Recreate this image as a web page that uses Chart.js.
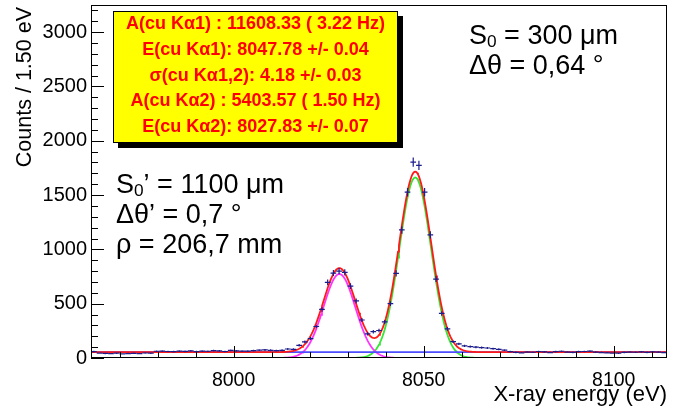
<!DOCTYPE html>
<html><head><meta charset="utf-8">
<script src="https://cdn.jsdelivr.net/npm/chart.js@4.4.0/dist/chart.umd.min.js"></script>
<style>html,body{margin:0;padding:0;background:#fff;}canvas{display:block;}</style>
</head><body>
<canvas id="c" width="684" height="409"></canvas>
<script>
// ---- histogram data (counts per 1.5 eV bin) ----
const binLow = 7962.5;
const binWidth = 1.5;
const counts = [
  58,
  45, 42, 40, 44, 38, 41, 43, 40, 46, 44,
  62, 64, 60, 58, 63, 61, 66, 59, 64, 62, 67, 65, 60, 70, 66, 64, 63, 68, 72,
  74, 71, 68, 71, 83, 80, 117, 148, 179, 290, 447,
  696, 782, 800, 788, 662, 526, 350, 222, 242, 253, 332, 500, 779, 1179, 1527, 1804, 1773, 1527, 1133, 727, 410, 268,
  150, 130, 112, 104, 100, 96, 92, 86, 80, 72, 58,
  52, 48, 55, 53, 60, 56, 50, 58, 62, 55, 52, 58, 60, 63, 54, 50, 48, 45, 44, 52, 55, 53, 57, 52, 56, 54, 50
];
// ---- fit parameters (from the stats box) ----
const areaKa1 = 11608.33, meanKa1 = 8047.78;
const areaKa2 = 5403.57, meanKa2 = 8027.83;
const sigmaKa = 4.18;
const background = 54;
// ---- axes ----
const xRange = [7962.5, 8114];
const yRange = [0, 3250];
const xTickValues = [8000, 8050, 8100];
const yTickValues = [0, 500, 1000, 1500, 2000, 2500, 3000];
const xTitle = 'X-ray energy (eV)';
const yTitle = 'Counts / 1.50 eV';
const statsLines = [
  'A(cu K\u03b11) : 11608.33 ( 3.22 Hz)',
  'E(cu K\u03b11): 8047.78 +/- 0.04',
  '\u03c3(cu K\u03b11,2): 4.18 +/- 0.03',
  'A(cu K\u03b12) : 5403.57 ( 1.50 Hz)',
  'E(cu K\u03b12): 8027.83 +/- 0.07'
];

const FONT = '"Liberation Sans", Arial, Helvetica, sans-serif';
const energies = counts.map((_, i) => binLow + binWidth * (i + 0.5));
const histPoints = counts.map((c, i) => ({x: energies[i], y: c}));

function gaussHeight(area) { return area * binWidth / (sigmaKa * Math.sqrt(2 * Math.PI)); }
function g(x, area, mean) { const d = (x - mean) / sigmaKa; return gaussHeight(area) * Math.exp(-0.5 * d * d); }
const sampleX = [];
for (let x = xRange[0]; x <= xRange[1] + 1e-9; x += 0.25) sampleX.push(x);
const curveKa1 = sampleX.map(x => ({x, y: g(x, areaKa1, meanKa1)}));
const curveKa2 = sampleX.map(x => ({x, y: g(x, areaKa2, meanKa2)}));
const curveBg = sampleX.map(x => ({x, y: background}));
const curveTotal = sampleX.map(x => ({x, y: background + g(x, areaKa1, meanKa1) + g(x, areaKa2, meanKa2)}));

const errorBars = {
  id: 'errorBars',
  afterDatasetsDraw(chart) {
    const {ctx, chartArea: a, scales: {x, y}} = chart;
    ctx.save();
    ctx.beginPath(); ctx.rect(a.left, a.top, a.right - a.left, a.bottom - a.top); ctx.clip();
    ctx.strokeStyle = '#1c1c8c'; ctx.lineWidth = 1.2;
    histPoints.forEach(p => {
      const px = x.getPixelForValue(p.x), py = y.getPixelForValue(p.y);
      const x0 = x.getPixelForValue(p.x - binWidth / 2), x1 = x.getPixelForValue(p.x + binWidth / 2);
      const e = Math.sqrt(p.y);
      const y0 = y.getPixelForValue(p.y - e), y1 = y.getPixelForValue(p.y + e);
      ctx.beginPath();
      ctx.moveTo(x0, py); ctx.lineTo(x1, py);
      ctx.moveTo(px, y0); ctx.lineTo(px, y1);
      ctx.stroke();
    });
    ctx.restore();
  }
};

const frameTicks = {
  id: 'frameTicks',
  afterDraw(chart) {
    const {ctx, chartArea: a, scales: {x, y}} = chart;
    ctx.save();
    ctx.strokeStyle = '#000'; ctx.lineWidth = 1;
    ctx.strokeRect(Math.round(a.left) + 0.5, Math.round(a.top) + 0.5, Math.round(a.right - a.left) - 1, Math.round(a.bottom - a.top) - 1);
    ctx.beginPath();
    for (let v = 0; v <= yRange[1]; v += 100) {
      const py = Math.round(y.getPixelForValue(v)) + 0.5;
      const len = (v % 500 === 0) ? 13 : 7;
      ctx.moveTo(a.left, py); ctx.lineTo(a.left + len, py);
    }
    for (let v = 7970; v <= xRange[1]; v += 10) {
      const px = Math.round(x.getPixelForValue(v)) + 0.5;
      const len = (v % 50 === 0) ? 12 : 6;
      ctx.moveTo(px, a.bottom); ctx.lineTo(px, a.bottom - len);
    }
    ctx.stroke();
    ctx.restore();
  }
};

function drawSub(ctx, parts, x0, yb, size) {
  let xx = x0;
  parts.forEach(p => {
    const s = p.sub ? size * 0.64 : size;
    ctx.font = s + 'px ' + FONT;
    ctx.fillText(p.t, xx, yb + (p.sub ? size * 0.1 : 0));
    xx += ctx.measureText(p.t).width;
  });
}

const texts = {
  id: 'texts',
  afterDraw(chart) {
    const {ctx, chartArea: a} = chart;
    ctx.save();
    // stats box
    const bx = 113, by = 11, bw = 285, bh = 132;
    ctx.fillStyle = '#000';
    ctx.fillRect(bx + 5, by + 5, bw, bh);
    ctx.fillStyle = '#ffff00';
    ctx.fillRect(bx, by, bw, bh);
    ctx.strokeStyle = '#000'; ctx.lineWidth = 1;
    ctx.strokeRect(bx + 0.5, by + 0.5, bw - 1, bh - 1);
    ctx.fillStyle = '#ff0000';
    ctx.font = 'bold 18px ' + FONT;
    ctx.textAlign = 'center'; ctx.textBaseline = 'middle';
    statsLines.forEach((t, i) => ctx.fillText(t, bx + bw / 2, by + 13 + i * 25.8));
    // annotations
    ctx.fillStyle = '#000'; ctx.textAlign = 'left'; ctx.textBaseline = 'alphabetic';
    drawSub(ctx, [{t: 'S'}, {t: '0', sub: true}, {t: ' = 300 \u03bcm'}], 469, 44, 27);
    drawSub(ctx, [{t: '\u0394\u03b8 = 0,64 \u00b0'}], 469, 74, 27);
    drawSub(ctx, [{t: 'S'}, {t: '0', sub: true}, {t: '\u2019 = 1100 \u03bcm'}], 116, 193, 27);
    drawSub(ctx, [{t: '\u0394\u03b8\u2019 = 0,7 \u00b0'}], 116, 223, 27);
    drawSub(ctx, [{t: '\u03c1 = 206,7 mm'}], 116, 253, 27);
    // axis titles
    ctx.font = '22px ' + FONT;
    ctx.textAlign = 'right';
    ctx.fillText(xTitle, a.right, 401);
    ctx.translate(31, a.top);
    ctx.rotate(-Math.PI / 2);
    ctx.textAlign = 'right';
    ctx.font = '21.5px ' + FONT;
    ctx.fillText(yTitle, -2, 0);
    ctx.restore();
  }
};

new Chart(document.getElementById('c'), {
  type: 'scatter',
  data: {
    datasets: [
      {label: 'data', data: histPoints, showLine: false, pointRadius: 0, order: 1},
      {label: 'total', data: curveTotal, showLine: true, borderColor: '#ff1a1a', borderWidth: 1.8, pointRadius: 0, order: 2},
      {label: 'bg', data: curveBg, showLine: true, borderColor: '#4d4dff', borderWidth: 1.8, pointRadius: 0, order: 3},
      {label: 'Ka2', data: curveKa2, showLine: true, borderColor: '#ff33ff', borderWidth: 1.8, pointRadius: 0, order: 4},
      {label: 'Ka1', data: curveKa1, showLine: true, borderColor: '#33e633', borderWidth: 1.8, pointRadius: 0, order: 5}
    ]
  },
  options: {
    responsive: false, animation: false, devicePixelRatio: 1,
    layout: {padding: {left: 0, top: 5, right: 17, bottom: 0}},
    plugins: {legend: {display: false}, tooltip: {enabled: false}},
    scales: {
      x: {
        type: 'linear', min: xRange[0], max: xRange[1],
        grid: {display: false, drawTicks: false}, border: {display: false},
        afterBuildTicks: s => { s.ticks = xTickValues.map(v => ({value: v})); },
        afterFit: s => { s.height = 51; s.paddingLeft = 0; s.paddingRight = 0; },
        ticks: {color: '#000', font: {family: FONT, size: 19.5}, padding: 11, maxRotation: 0, callback: v => String(v)}
      },
      y: {
        type: 'linear', min: yRange[0], max: yRange[1],
        grid: {display: false, drawTicks: false}, border: {display: false},
        afterBuildTicks: s => { s.ticks = yTickValues.map(v => ({value: v})); },
        afterFit: s => { s.width = 91; s.paddingTop = 0; s.paddingBottom = 0; },
        ticks: {color: '#000', font: {family: FONT, size: 20}, padding: 4, callback: v => String(v)}
      }
    }
  },
  plugins: [errorBars, frameTicks, texts]
});
</script>
</body></html>
